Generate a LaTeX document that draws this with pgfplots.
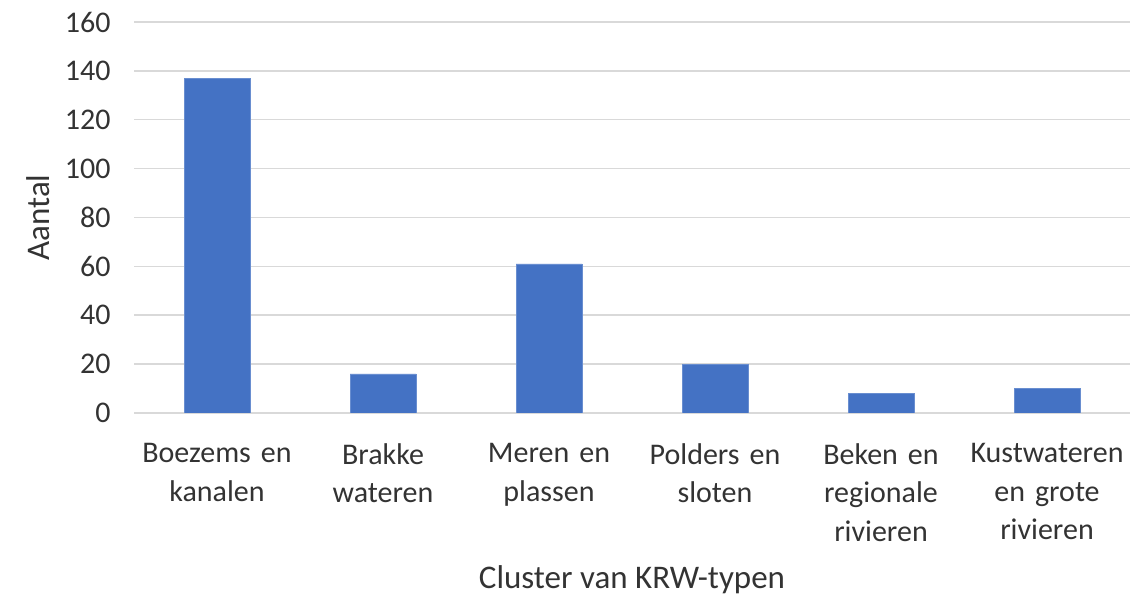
\documentclass[border=0pt]{standalone}
\usepackage{fontspec}
\setmainfont{Carlito}
\usepackage{pgfplots}
\pgfplotsset{compat=1.18}
\definecolor{barblue}{HTML}{4472C4}
\definecolor{gridgray}{HTML}{D9D9D9}
\definecolor{txt}{HTML}{333333}
\begin{document}
\begin{tikzpicture}
\useasboundingbox (0,0) rectangle (1145pt,599pt);
\begin{axis}[
  at={(134pt,186pt)}, anchor=south west,
  scale only axis, width=996pt, height=391pt,
  xmin=-0.5, xmax=5.5, ymin=0, ymax=160,
  ytick={0,20,...,160},
  xtick={0,1,2,3,4,5},
  xticklabels={{Boezems en\\kanalen},{Brakke\\wateren},{Meren en\\plassen},{Polders en\\sloten},{Beken en\\regionale\\rivieren},{Kustwateren\\en grote\\rivieren}},
  ybar, bar width=66pt,
  axis line style={draw=none},
  tick style={draw=none},
  major tick length=0pt,
  ymajorgrids, grid style={gridgray, line width=1.5pt},
  /pgf/number format/assume math mode=true,
  yticklabel style={font=\fontsize{30}{36}\selectfont, text=txt, xshift=-20pt},
  xticklabel style={font=\fontsize{30}{38.5}\selectfont, text=txt, align=center, text width=170pt, anchor=north, yshift=-27pt},
  xlabel={Cluster van KRW-typen},
  ylabel={Aantal},
  xlabel style={font=\fontsize{33}{40}\selectfont, text=txt, at={(axis description cs:0.5,-0.427)}, anchor=center},
  ylabel style={font=\fontsize{33}{40}\selectfont, text=txt, at={(axis description cs:-0.0964,0.5)}, anchor=center, rotate=0},
]
\addplot[fill=barblue, draw=barblue!80!white] coordinates {(0,137) (1,16) (2,61) (3,20) (4,8) (5,10)};
\end{axis}
\end{tikzpicture}
\end{document}
